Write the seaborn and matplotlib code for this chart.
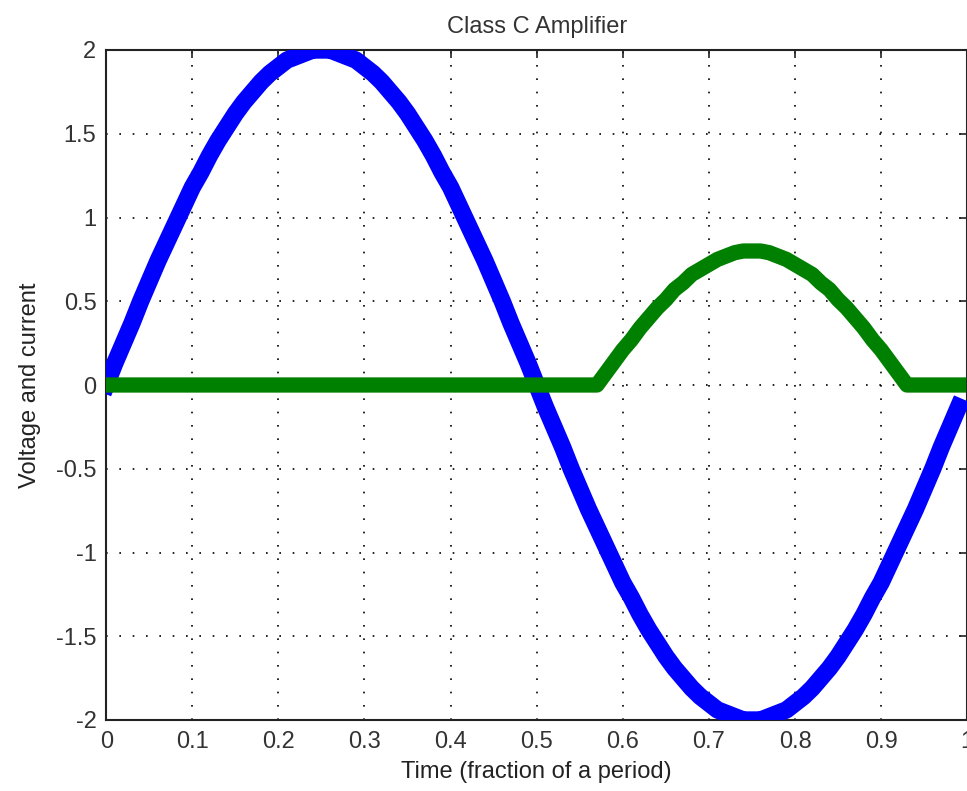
import matplotlib
matplotlib.use("Agg")
import matplotlib.pyplot as plt
import seaborn as sns
import pandas as pd

# ---- data ----
time = [i / 100 for i in range(100)]  # 0.00 .. 0.99

voltage = [
    0.00, 0.13, 0.25, 0.37, 0.50, 0.62, 0.74, 0.85, 0.96, 1.07,
    1.18, 1.27, 1.37, 1.46, 1.54, 1.62, 1.69, 1.75, 1.81, 1.86,
    1.90, 1.94, 1.96, 1.98, 2.00, 2.00, 2.00, 1.98, 1.96, 1.94,
    1.90, 1.86, 1.81, 1.75, 1.69, 1.62, 1.54, 1.46, 1.37, 1.27,
    1.18, 1.07, 0.96, 0.85, 0.74, 0.62, 0.50, 0.37, 0.25, 0.13,
    0.00, -0.13, -0.25, -0.37, -0.50, -0.62, -0.74, -0.85, -0.96, -1.07,
    -1.18, -1.27, -1.37, -1.46, -1.54, -1.62, -1.69, -1.75, -1.81, -1.86,
    -1.90, -1.94, -1.96, -1.98, -2.00, -2.00, -2.00, -1.98, -1.96, -1.94,
    -1.90, -1.86, -1.81, -1.75, -1.69, -1.62, -1.54, -1.46, -1.37, -1.27,
    -1.18, -1.07, -0.96, -0.85, -0.74, -0.62, -0.50, -0.37, -0.25, -0.13,
]

current = [
    0.00, 0.00, 0.00, 0.00, 0.00, 0.00, 0.00, 0.00, 0.00, 0.00,
    0.00, 0.00, 0.00, 0.00, 0.00, 0.00, 0.00, 0.00, 0.00, 0.00,
    0.00, 0.00, 0.00, 0.00, 0.00, 0.00, 0.00, 0.00, 0.00, 0.00,
    0.00, 0.00, 0.00, 0.00, 0.00, 0.00, 0.00, 0.00, 0.00, 0.00,
    0.00, 0.00, 0.00, 0.00, 0.00, 0.00, 0.00, 0.00, 0.00, 0.00,
    0.00, 0.00, 0.00, 0.00, 0.00, 0.00, 0.00, 0.00, 0.07, 0.14,
    0.21, 0.27, 0.34, 0.40, 0.46, 0.51, 0.57, 0.61, 0.66, 0.69,
    0.72, 0.75, 0.77, 0.79, 0.80, 0.80, 0.80, 0.79, 0.77, 0.75,
    0.72, 0.69, 0.66, 0.61, 0.57, 0.51, 0.46, 0.40, 0.34, 0.27,
    0.21, 0.14, 0.07, 0.00, 0.00, 0.00, 0.00, 0.00, 0.00, 0.00,
]

x_ticks = [0, 0.1, 0.2, 0.3, 0.4, 0.5, 0.6, 0.7, 0.8, 0.9, 1]
x_tick_labels = ["0", "0.1", "0.2", "0.3", "0.4", "0.5", "0.6", "0.7", "0.8", "0.9", "1"]
y_ticks = [-2, -1.5, -1, -0.5, 0, 0.5, 1, 1.5, 2]
y_tick_labels = ["-2", "-1.5", "-1", "-0.5", "0", "0.5", "1", "1.5", "2"]

title = "Class C Amplifier"
x_label = "Time (fraction of a period)"
y_label = "Voltage and current"

# ---- plotting ----
sns.set_style("white")
plt.rcParams["font.family"] = ["Liberation Sans", "DejaVu Sans"]

df = pd.DataFrame({"t": time, "v": voltage, "i": current})

fig = plt.figure(figsize=(9.67, 7.91), dpi=100)
W, H = 967.0, 791.0
ax = fig.add_axes([106.2 / W, 1 - 720 / H, 861.0 / W, 670 / H])

sns.lineplot(data=df, x="t", y="v", color="#0000FF", linewidth=12.5,
             solid_capstyle="projecting", solid_joinstyle="round", ax=ax, zorder=3)
sns.lineplot(data=df, x="t", y="i", color="#008000", linewidth=11,
             solid_capstyle="projecting", solid_joinstyle="round", ax=ax, zorder=4)

ax.set_xlim(0, 1)
ax.set_ylim(-2, 2)
ax.set_xticks(x_ticks)
ax.set_xticklabels(x_tick_labels)
ax.set_yticks(y_ticks)
ax.set_yticklabels(y_tick_labels)

fs = 17
ax.tick_params(axis="both", direction="in", length=6, width=1.2,
               top=True, right=True, labelsize=fs, colors="#222222",
               labelcolor="#333333")
ax.tick_params(axis="x", pad=8)
ax.tick_params(axis="y", pad=7)

ax.grid(True, color="black", linestyle=(0, (1, 7)), linewidth=1.2)
ax.set_axisbelow(True)
for s in ax.spines.values():
    s.set_color("#222222")
    s.set_linewidth(1.5)
    s.set_visible(True)

ax.set_title(title, fontsize=fs, color="#333333", pad=12)
ax.set_xlabel(x_label, fontsize=fs, color="#222222", labelpad=6)
ax.set_ylabel(y_label, fontsize=fs, color="#222222", labelpad=11)

fig.savefig("out.png", dpi=100)
